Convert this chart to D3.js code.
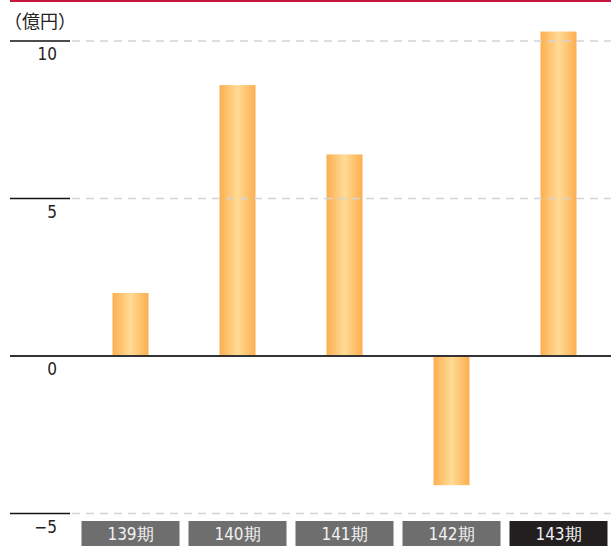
<!DOCTYPE html>
<html>
<head>
<meta charset="utf-8">
<script src="https://cdn.jsdelivr.net/npm/d3@7"></script>
<style>
  html, body { margin: 0; padding: 0; background: #fff; }
  svg { display: block; }
  .cat { font-family: "Liberation Sans Narrow", "DejaVu Sans Condensed", "Noto Sans", sans-serif; font-stretch: condensed; }
</style>
</head>
<body>
<svg id="chart" width="611" height="546"></svg>
<script>
// Ordinary profit by fiscal period (100 million yen)
const periods = ["139期", "140期", "141期", "142期", "143期"];
const profits = [2.0, 8.6, 6.4, -4.1, 10.3];
const yTicks = [10, 5, 0, -5];
const yUnit = "（億円）";

const W = 611, H = 546;
const svg = d3.select("#chart");

const y = d3.scaleLinear().domain([-5, 10]).range([513.5, 41]);
const x = d3.scaleBand().domain(periods).range([77, 612]).paddingInner(0).paddingOuter(0);
const barW = 36;

const defs = svg.append("defs");
const grad = defs.append("linearGradient").attr("id", "barGrad")
  .attr("x1", "0%").attr("x2", "100%").attr("y1", "0%").attr("y2", "0%");
grad.append("stop").attr("offset", "0%").attr("stop-color", "#fdae4f");
grad.append("stop").attr("offset", "50%").attr("stop-color", "#ffdb95");
grad.append("stop").attr("offset", "100%").attr("stop-color", "#fdae4f");

// top rule
svg.append("line").attr("x1", 10).attr("x2", W).attr("y1", 1).attr("y2", 1)
  .attr("stroke", "#c8153c").attr("stroke-width", 2);

// unit label
svg.append("text").attr("x", 4).attr("y", 28)
  .attr("font-family", "Noto Sans CJK JP, sans-serif").attr("font-size", 18)
  .attr("fill", "#222").text(yUnit);

// bars
const cx = d => x(d) + x.bandwidth() / 2;
svg.append("g").selectAll("rect").data(periods).join("rect")
  .attr("x", d => cx(d) - barW / 2)
  .attr("width", barW)
  .attr("y", (d, i) => y(Math.max(0, profits[i])))
  .attr("height", (d, i) => Math.abs(y(profits[i]) - y(0)))
  .attr("fill", "url(#barGrad)");

// grid + ticks
const g = svg.append("g");
yTicks.forEach(t => {
  if (t !== 0) {
    g.append("line").attr("x1", 72).attr("x2", W).attr("y1", y(t)).attr("y2", y(t))
      .attr("stroke", "#d4d4d4").attr("stroke-width", 1.3).attr("stroke-dasharray", "8,6");
    g.append("line").attr("x1", 10).attr("x2", 70).attr("y1", y(t)).attr("y2", y(t))
      .attr("stroke", "#111").attr("stroke-width", 1.5);
  }
  g.append("text").attr("x", 57).attr("y", y(t) + 19)
    .attr("text-anchor", "end").attr("class", "cat")
    .attr("font-size", 17).attr("fill", "#222")
    .text(t < 0 ? "−" + Math.abs(t) : t);
});
// zero line
g.append("line").attr("x1", 10).attr("x2", W).attr("y1", y(0)).attr("y2", y(0))
  .attr("stroke", "#333").attr("stroke-width", 2);

// period boxes
const boxW = 98;
const cats = svg.append("g").selectAll("g").data(periods).join("g");
cats.append("rect")
  .attr("x", d => cx(d) - boxW / 2).attr("y", 521)
  .attr("width", boxW).attr("height", 25)
  .attr("fill", (d, i) => i === periods.length - 1 ? "#231f20" : "#6e6e6e");
cats.append("text")
  .attr("x", d => cx(d)).attr("y", 540)
  .attr("text-anchor", "middle").attr("class", "cat")
  .attr("font-size", 17).attr("fill", "#f2f2f2")
  .text(d => d);
</script>
</body>
</html>
